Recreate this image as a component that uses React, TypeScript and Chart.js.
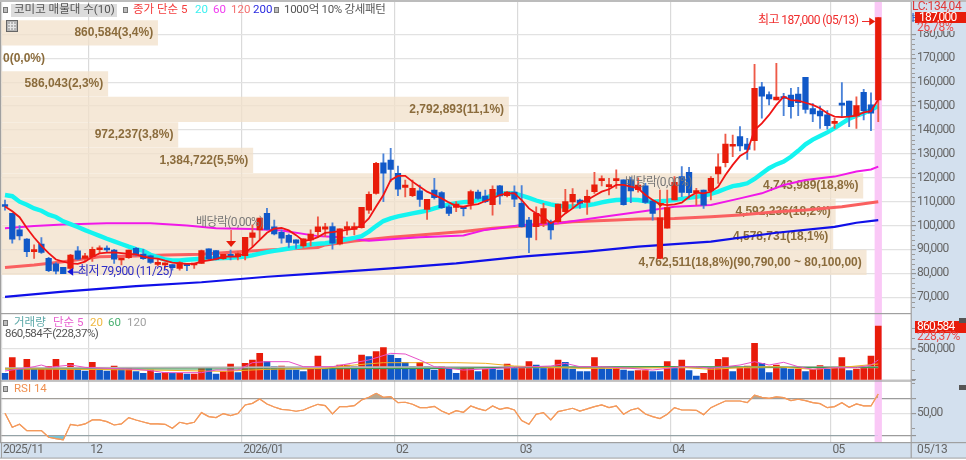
import React, { useEffect, useRef } from "react";
import { Chart, registerables } from "chart.js";

Chart.register(...registerables);

const opens = [108.3,105.1,98.2,94.4,89.1,92.3,86.3,84,82.5,82.1,89.4,86.3,87,89.9,90.3,89.8,85.6,86.6,90.5,88.1,87.3,83.8,83.5,83.7,82.1,83.7,83.5,84.2,90.3,89.5,86.2,87.7,87,87.4,95.1,98.2,105.1,99.5,97.2,95.9,94,91.5,94,97.5,98.5,99.6,92.3,98.6,98.4,99.1,106.5,113.5,126.3,127.4,121.9,116,112.5,114.5,106.8,114.9,113.8,107.9,107.6,107.4,109,114,112.4,108.8,116.6,112.5,114,109.3,102.3,99.6,100.9,101.6,101.6,105.8,109.9,110.7,109.7,114.2,118.8,116.3,118.8,119.1,119.1,115,116.6,110.3,86.3,98.9,110.7,120.5,122.3,113.8,114.9,114.6,121.6,126.3,133.2,137.2,134.1,135.5,158.1,154.8,152.6,153.6,154.6,155,162,149,147.9,146.3,142.8,151.1,152.1,145.9,155.8,150.5,152.6];
const highs = [110.7,105.1,100,94.6,92,95,86.7,84.5,82.5,88,91.2,88.4,91,91.5,91.5,90.1,86.3,89.8,90.9,90.1,87.7,85.9,84.4,83.7,84.9,83.7,84.1,89.8,90.3,89.5,88,89.8,89.1,95.1,100.3,103.1,107.2,102.3,98.2,96.5,94,94.5,98.2,103.7,101,101.2,98.7,101.6,101.2,107.6,114.1,126.5,130,132.3,124.9,119,119,117,111,119.8,114.2,108.6,110,107.4,114.9,114.9,114.9,116.6,116.9,114.3,116.6,116.7,103.5,107.9,109.3,102.3,109,115.2,115.5,111.1,114.9,122.3,120.8,119.8,123.3,119.1,120.2,120,117.7,110.7,114.9,114.9,120.5,124.7,124.4,115.6,114.9,120.5,130,138.3,137.9,141.4,136.5,167.5,160,156,167.9,155.3,157.4,157.9,162,151.1,150,148.1,144.9,159.8,152.1,153.9,157,155.6,187];
const lows = [106.5,92.6,94,87,86.3,88.4,80.7,79.8,79.9,81.5,85.6,85,85,88.4,88.7,84.2,83.5,86.3,87.3,85.9,84.2,83.1,82.1,81.4,81.4,81.1,82.1,84.2,85.6,85.6,85.9,85.6,85.6,85.6,91.2,94.4,98.2,96.1,92.6,90.9,90.5,90.9,91.5,95.4,95.4,90.1,91.9,96.1,96.1,98.9,105.1,113.2,110,118.4,112.5,112,112.1,108,102.6,111.1,107.2,104.2,105.8,104,106.9,111,109.6,104.4,109,112,107.9,99.3,88.7,94,99.6,94.3,101,105.1,107.2,107.2,104.7,113.5,116.6,112.8,115.6,108.6,109.6,114,109.3,102.3,86.3,98.9,110.7,112.1,111.4,108.6,107.2,110.7,117.7,124.6,128.8,131.3,127.7,131.6,144.9,150.5,152.6,146,144.9,146,147,143.5,140.7,140.4,140.7,145.6,141.4,140.7,144.2,139.7,143.5];
const closes = [108,94.3,95.7,89.1,89.5,88.8,81.1,80.9,79.9,87.7,86,87.4,90.1,90.4,89.8,86,86.3,89.8,87.7,86.2,84.6,84.6,84.4,82.4,84.5,83.2,84.1,89.5,86.2,85.9,88,87.1,88.3,95.1,97,103.1,98.4,96.5,94.7,93,92.6,94.5,96.5,99.5,99.5,92.6,98.7,99.6,99.6,107.6,113.1,126.1,121.9,123.5,115.2,117,115.6,111,111,111.7,107.5,105.1,109,107.1,114.2,111.4,110,115.2,112.4,114,111.1,99.6,95.1,105.1,107.1,98.2,109,110,113.1,109.3,112.2,117.1,119.6,116.9,119.6,108.8,114.5,117,109.7,105.1,103.3,107.5,118.1,113.9,113.8,114.5,108.6,119.8,124.6,134.1,133.6,133.3,131.9,157.4,154.2,153,153.8,153.2,149.8,151.4,148.6,146.7,145.9,141.8,143.5,150.4,145.6,150.2,148.1,147,187];

const ma5 = [108,106,103.5,99,95,91.5,88.5,85.8,84.9,84.2,84,84.9,87,88.4,88.7,88.8,88.5,88.2,88,87,86.4,86.2,85.3,84.5,84.2,84,84,85,85.5,86,87,87,87,88.7,91,94,97,98.7,99,98,96,93.6,94,95.2,97,97.3,97.7,98.2,98.7,100,103,108,112.8,119,120.8,120.8,118.4,116.3,114.2,112.8,111.4,109.7,108.2,107.9,108.6,109,110.3,111.4,112.8,113.5,113.5,110.7,107.2,105.1,103.5,101,102.6,105.1,107.2,109.6,110.7,112.5,114.2,115.2,117,117,116.3,115.6,112.8,110.7,109,108.6,108.9,109.6,112.1,113.8,113.5,114.2,116.3,121.2,125.4,129.1,130.9,140,142.8,146.3,150.5,154,152.5,152.3,151.4,150.5,149.1,147,145.6,145.4,145.6,146,147.4,147.9,152.8];
const ma20 = [112.8,112.3,110,108.7,107.2,106.2,104.6,103.6,101.8,100.6,99.4,98.1,96.9,95.7,94.5,93.4,92.3,91.2,90.2,89.4,87.8,86.8,85.8,85.4,85.4,85.7,85.9,86.1,86.2,86.3,86.4,86.5,86.7,87,87.6,88.3,88.9,89.4,89.9,90.4,90.9,91.5,92.1,92.4,92.6,93.1,93.7,94.3,94.9,95.6,97.5,99.8,101.9,103,103.9,104.5,105.1,105.7,106.3,107.2,108,108.9,109.4,109.8,110,110.7,111.6,112.6,113.3,113.6,113.5,112.6,111.6,110.5,109.6,108.9,108.3,108,108,108.2,108.5,109,109.7,110.3,110.7,110.8,110.8,110.7,110.2,110,110.2,110.4,110.7,111.2,111.6,112,112.6,113.3,114.2,115.4,116.5,117,117.7,119.5,121.8,124,125.6,126.8,128.8,131.3,134,136,137.5,139,140.8,142.8,144.7,146,147,148.5,150];
const ma60Idx = [0,4,8,14,20,25,29,34,38,43,46,50,57,63,66,71,76,83,88,92,97,101,104,107,110,114,117,119,120];
const ma60 = [98.9,99.8,100.5,101,101,100,98.9,98.6,97.9,95.6,95.1,93.7,95.1,95.9,98.2,100.3,101,104,106.1,107.9,108.6,111.4,113.5,117,119.1,120.5,122.6,123.5,124.7];
const ma120Idx = [0,4,8,13,18,22,27,31,36,43,44,48,53,57,63,67,73,78,84,87,92,97,101,106,110,115,120];
const ma120 = [82.5,83.5,84.9,87,87.3,87.7,88,88.8,89.8,90.8,91.9,93.6,95.1,96.1,97.5,98.9,100.3,101.6,102.3,102.8,103,103.7,104.4,105.8,106.5,107.9,110];
const ma200Idx = [0,8,18,27,36,43,53,62,71,80,87,97,106,114,117,120];
const ma200 = [70.2,72.4,74.7,76.3,78.6,80,82.1,84.2,87,89.1,91.2,93.3,97,99.5,101.2,102.3];

const volumes = [106000,356000,170000,329000,186000,186000,212000,329000,159000,266000,202000,143000,282000,159000,143000,223000,202000,186000,133000,106000,159000,106000,117000,106000,106000,96000,96000,186000,186000,96000,133000,255000,117000,266000,319000,425000,292000,212000,223000,159000,159000,133000,170000,382000,186000,212000,239000,239000,212000,398000,372000,452000,515000,398000,345000,282000,212000,282000,212000,159000,212000,186000,106000,186000,186000,133000,170000,170000,159000,255000,186000,197000,292000,239000,212000,197000,319000,282000,175000,133000,133000,356000,197000,175000,197000,159000,143000,149000,149000,133000,133000,292000,186000,319000,149000,64000,106000,186000,329000,356000,133000,186000,223000,584000,266000,117000,239000,186000,175000,175000,133000,170000,228000,170000,202000,356000,149000,175000,202000,382000,860584];
const volUp = [0,1,0,1,0,1,1,1,0,1,0,0,1,0,0,1,0,1,0,0,1,0,1,0,1,0,1,1,0,0,1,1,0,1,1,1,0,0,1,0,0,0,1,1,0,0,1,1,0,1,0,1,1,0,0,0,0,1,0,0,1,0,0,1,1,0,1,0,0,1,0,1,1,0,0,1,1,0,0,0,0,1,0,0,1,0,0,1,1,0,0,1,0,1,0,0,1,1,1,1,0,1,1,1,0,0,1,0,0,1,0,1,1,0,1,1,0,1,1,1,1];
const volMa5Idx = [0,4,5,6,9,11,14,18,20,22,27,29,32,34,36,39,41,45,47,50,53,55,57,59,63,65,70,75,77,79,82,86,89,93,95,97,101,103,105,107,109,111,114,117,119,120];
const volMa5 = [143000,212000,239000,202000,239000,202000,186000,170000,149000,117000,117000,159000,159000,276000,292000,292000,212000,212000,255000,319000,425000,414000,319000,212000,159000,170000,202000,223000,266000,212000,212000,186000,159000,212000,212000,186000,239000,292000,239000,282000,212000,170000,197000,197000,239000,319000];
const volMa20Idx = [0,20,30,36,44,48,52,62,66,70,75,79,84,93,97,102,106,111,116,120];
const volMa20 = [180000,159000,138000,170000,186000,239000,276000,276000,266000,223000,202000,186000,186000,202000,170000,202000,212000,170000,212000,255000];
const volMa60Idx = [0,30,60,70,90,110,120];
const volMa60 = [175000,175000,186000,202000,212000,202000,202000];
const volMa120Idx = [0,40,70,110,120];
const volMa120 = [186000,202000,202000,202000,202000];

const rsi = [50,31.3,35.3,26.9,26.9,26.9,18,16.2,14.5,35.3,33.6,35.8,41.1,41.1,38.9,34.4,35.8,44.2,41.1,38.4,35.8,35.8,35.3,30,38,35.8,38,50.9,45.6,44.2,49.6,46.9,49.6,61.1,63.3,69.1,62.4,58.4,55.3,54.4,52.7,54.4,58.4,62,60.2,49.1,58.9,58.9,60.2,67.8,71.3,76.6,71.3,72.2,64.2,64.7,62,57.5,57.5,59.3,53,49,53.5,51.3,59.8,56.2,53.5,59.8,55.3,57.5,54.4,40.2,35.3,48.7,50.9,41.1,52.2,54.4,56.7,53,55.8,58.9,61.1,57.5,59.8,48.7,54.4,56.7,49,45.6,42.9,48.7,57.5,54.4,54.4,54,48.2,57.5,62,66.4,66.4,66.4,64.2,74,71.3,70,71.8,70.9,66.9,68.7,66.9,64.2,62.9,57.5,58.9,64.2,58,62.4,59.8,59.8,75.8];

const profileMid = [180.69,170.02,159.35,148.68,138.01,127.34,116.67,106,95.33,84.66];
const profileVol = [860584,0,586043,2792893,972237,1384722,4743989,4592236,4578731,4762511];
const profileLabels = ["860,584(3,4%)","0(0,0%)","586,043(2,3%)","2,792,893(11,1%)","972,237(3,8%)","1,384,722(5,5%)","4,743,989(18,8%)","4,592,236(18,2%)","4,578,731(18,1%)","4,762,511(18,8%)(90,790,00 ~ 80,100,00)"];

const monthIdx = [0,12,33,54,71,92,114];
const monthLabels = ["2025/11","12","2026/01","02","03","04","05"];
const priceTicks = [70,80,90,100,110,120,130,140,150,160,170,180];
const slots = Array.from({ length: 125 }, (_, i) => String(i));

const UP = "#e81c0a", DOWN = "#1058c8", UPW = "#ee5a48", DOWNW = "#4a82d8";
const NUM = 'Roboto,"Noto Sans CJK KR",sans-serif';
const GRID = "#e2e2e2";
const STRIP = "#d3e0ee";
const AXIS_SPACING = "-0.75px";

const sparse = (idx: number[], v: number[]) => idx.map((x, k) => ({ x: String(x), y: v[k] }));
const fixFit = (w?: number, h?: number) => (s: any) => {
  if (w !== undefined) s.width = w;
  if (h !== undefined) s.height = h;
  s.paddingTop = s.paddingBottom = s.paddingLeft = s.paddingRight = 0;
};

function txt(c: any, s: string, x: number, y: number, color: string, font: string, spacing = "0px") {
  c.font = font; c.letterSpacing = spacing; c.fillStyle = color; c.textAlign = "left"; c.textBaseline = "middle"; c.fillText(s, x, y);
  c.letterSpacing = "0px";
}
function bullet(c: CanvasRenderingContext2D, x: number, y: number) {
  c.fillStyle = "#bdbdbd"; c.fillRect(x, y, 5, 6);
  c.strokeStyle = "#777"; c.lineWidth = 1; c.strokeRect(x + .5, y + .5, 4, 5);
}
function tri(c: CanvasRenderingContext2D, pts: number[][], color: string) {
  c.fillStyle = color; c.beginPath(); c.moveTo(pts[0][0], pts[0][1]); pts.slice(1).forEach(p => c.lineTo(p[0], p[1])); c.closePath(); c.fill();
}

const overlay = {
  id: "overlay",
  beforeDraw(chart: any) {
    const c = chart.ctx as any, a = chart.chartArea;
    c.fillStyle = "#fff"; c.fillRect(0, 0, 966, 460);
    c.fillStyle = STRIP;
    c.fillRect(a.right, a.top, 966 - a.right, 458 - a.top);
    c.fillRect(0, a.bottom, 966, 16);
    c.letterSpacing = AXIS_SPACING;
  },
  beforeDatasetsDraw(chart: any) {
    const c = chart.ctx as any, a = chart.chartArea, x = chart.scales.x;
    c.letterSpacing = "0px";
    c.save();
    const p = x.getPixelForValue(120), w = x.getPixelForValue(1) - x.getPixelForValue(0);
    c.fillStyle = "#fac8f6";
    c.fillRect(p - w / 2, a.top, w, a.bottom - a.top);
    c.restore();
  },
  afterDatasetDraw(chart: any, args: any) {
    if (args.index !== 0) return;
    const c = chart.ctx as CanvasRenderingContext2D, y = chart.scales.y, xp = chart.scales.xProfile;
    c.save();
    profileLabels.forEach((s, k) => {
      const f = 'bold 12px "Liberation Sans","Noto Sans CJK KR",sans-serif';
      c.font = f;
      const w = c.measureText(s).width;
      const end = xp.getPixelForValue(profileVol[k]) - 4.5;
      txt(c, s, Math.max(3, end - w), y.getPixelForValue(profileMid[k]), "#8b6c3c", f);
    });
    c.restore();
  },
  afterDatasetsDraw(chart: any) {
    const c = chart.ctx as CanvasRenderingContext2D, x = chart.scales.x, y = chart.scales.y;
    c.save();
    const F = `12px ${NUM}`, S = "-0.6px";
    const hx = x.getPixelForValue(120);
    txt(c, "최고 187,000 (05/13)", 758, 21, "#f02c2c", F, S);
    c.strokeStyle = "#f02c2c"; c.lineWidth = 1;
    c.beginPath(); c.moveTo(862, 21.5); c.lineTo(873, 21.5); c.stroke();
    tri(c, [[hx - 3, 21.5], [hx - 9, 17.5], [hx - 9, 25.5]], "#e81c0a");
    const lx = x.getPixelForValue(8) + 4, ly = y.getPixelForValue(79.9) - 2;
    tri(c, [[lx, ly], [lx + 6, ly - 4], [lx + 6, ly + 4]], "#1414d8");
    c.strokeStyle = "#1414d8"; c.beginPath(); c.moveTo(lx + 6, ly + .5); c.lineTo(lx + 13, ly + .5); c.stroke();
    txt(c, "최저 79,900 (11/25)", 78, ly, "#2c2cc8", F, S);
    txt(c, "배당락(0,00%)", 196, 223, "#777", F, S);
    const dx = x.getPixelForValue(31);
    c.strokeStyle = "#e81c0a"; c.beginPath(); c.moveTo(dx + .5, 230); c.lineTo(dx + .5, 241); c.stroke();
    tri(c, [[dx + .5, 247], [dx - 4.5, 241], [dx + 5.5, 241]], "#e81c0a");
    txt(c, "배당락(0,00%)", 625, 183, "#777", F, S);
    const ex = x.getPixelForValue(90);
    tri(c, [[ex + .5, 207], [ex - 3.5, 203], [ex + 4.5, 203]], "#e81c0a");
    c.restore();
  },
  afterDraw(chart: any) {
    const c = chart.ctx as CanvasRenderingContext2D, a = chart.chartArea;
    const { y, yVol, yRsi } = chart.scales;
    c.save();
    const F = `12px ${NUM}`, S = AXIS_SPACING;
    c.fillStyle = "#bcbcbc"; c.fillRect(0, 0, 966, 2);
    c.fillStyle = "#a0a0a0";
    c.fillRect(0, 313, 911, 1.2); c.fillRect(0, 380.4, 911, 1.2);
    c.fillRect(0, 442, 966, 1.2); c.fillRect(0, 457.6, 966, 1);
    c.fillRect(910.6, 2, 1.2, 456);
    c.fillRect(0, 2, 1, 440);
    c.fillRect(1, 442, 1, 16);
    c.fillStyle = "#9a9a9a";
    for (let v = 66; v < 192; v += 2) if (v % 10) c.fillRect(a.right + 1, Math.round(y.getPixelForValue(v)), 3, 1);
    for (let v = 0; v < 1000000; v += 166667) c.fillRect(a.right + 1, Math.round(yVol.getPixelForValue(v)), 3, 1);
    for (let v = 30; v < 94; v += 20) c.fillRect(a.right + 1, Math.round(yRsi.getPixelForValue(v)), 3, 1);
    const L = `11.5px ${NUM}`, LS = "-0.3px";
    bullet(c, 3, 7);
    c.fillStyle = "#dcdcdc"; c.fillRect(11, 4, 106, 13);
    txt(c, "코미코 매물대 수(10)", 14, 10.5, "#555", L);
    bullet(c, 123, 7);
    txt(c, "종가 단순 5", 133, 10.5, "#f43c3c", L);
    txt(c, "20", 195, 10.5, "#3cf0f0", L);
    txt(c, "60", 213, 10.5, "#f03cf0", L);
    txt(c, "120", 231, 10.5, "#f47070", L);
    txt(c, "200", 253, 10.5, "#2a2ae0", L);
    bullet(c, 274, 7);
    txt(c, "1000억 10% 강세패턴", 284, 10.5, "#555", L, LS);
    c.fillStyle = "#b4b4b4"; c.fillRect(6, 20, 12, 12);
    c.strokeStyle = "#666"; c.lineWidth = 1; c.strokeRect(6.5, 20.5, 11, 11);
    c.strokeStyle = "#e6e6e6"; c.beginPath();
    c.moveTo(8, 24.5); c.lineTo(16, 24.5); c.moveTo(8, 27.5); c.lineTo(16, 27.5); c.moveTo(10.5, 22); c.lineTo(10.5, 30); c.moveTo(13.5, 22); c.lineTo(13.5, 30); c.stroke();
    bullet(c, 3, 320);
    txt(c, "거래량", 14, 323, "#5ca8a8", L);
    txt(c, "단순 5", 53, 323, "#e860d0", L);
    txt(c, "20", 90, 323, "#f0b840", L);
    txt(c, "60", 108, 323, "#48b070", L);
    txt(c, "120", 127, 323, "#a0a0a0", L);
    txt(c, "860,584주(228,37%)", 5, 334, "#555", L, "-0.55px");
    bullet(c, 3, 386);
    txt(c, "RSI 14", 14, 389, "#f09050", L);
    txt(c, "LC:134,04", 912, 7, "#e03838", F, "-0.4px");
    txt(c, "H", 911.5, 19, "#3068d0", F);
    c.fillStyle = STRIP; c.fillRect(912, 23, 54, 8);
    c.fillStyle = "#e81c0a"; c.fillRect(915, 12, 51, 11);
    txt(c, "187,000", 919, 17.5, "#fff", F, S);
    txt(c, "26,78%", 917, 28, "#e84848", F, "-0.25px");
    c.fillStyle = "#e81c0a"; c.fillRect(915, 321, 51, 12);
    txt(c, "860,584", 917, 327, "#fff", F, S);
    txt(c, "228,37%", 917, 337, "#e84848", F, "-0.25px");
    c.fillStyle = "#555";
    c.fillRect(959, 318, 7, 5); c.fillRect(959, 385, 7, 5);
    txt(c, "05/13", 917, 450, "#666", F, "-0.3px");
    c.restore();
  },
};

export default function App() {
  const ref = useRef<HTMLCanvasElement>(null);
  useEffect(() => {
    document.body.style.margin = "0";
    document.body.style.background = "#fff";
    const wick = (i: number) => [lows[i], highs[i]];
    const line = (label: string, data: any[], color: string, width: number, order: number, yAxisID = "y") => ({
      type: "line", label, data, borderColor: color, borderWidth: width, pointRadius: 0, tension: 0, fill: false, order, yAxisID, xAxisID: "x",
    });
    const axisFont = { family: NUM, size: 12 };
    const chart = new Chart(ref.current as HTMLCanvasElement, {
      data: {
        labels: slots,
        datasets: [
          {
            type: "bar", label: "매물대", indexAxis: "y", xAxisID: "xProfile", yAxisID: "y", grouped: false,
            data: profileVol.map((v, k) => ({ x: v, y: profileMid[k] })),
            backgroundColor: "rgba(241,224,202,0.75)", barThickness: 24.6, order: 100,
          },
          line("200", sparse(ma200Idx, ma200), "#1010e8", 2.2, 60),
          line("120", sparse(ma120Idx, ma120), "#fa6060", 3, 59),
          line("60", sparse(ma60Idx, ma60), "#f018e8", 2, 58),
          line("20", ma20, "#14f4f0", 4.4, 57),
          {
            type: "bar", label: "wick", xAxisID: "x", yAxisID: "y", grouped: false, barThickness: 1.2, order: 50,
            data: opens.map((_, i) => wick(i)),
            backgroundColor: opens.map((o, i) => (closes[i] >= o ? UPW : DOWNW)),
          },
          {
            type: "bar", label: "body", xAxisID: "x", yAxisID: "y", grouped: false, barThickness: 5.6, minBarLength: 2, order: 49,
            data: opens.map((o, i) => [o, closes[i]]),
            backgroundColor: opens.map((o, i) => (closes[i] >= o ? UP : DOWN)),
          },
          line("5", ma5, "#f01414", 1.8, 40),
          {
            type: "bar", label: "거래량", xAxisID: "x", yAxisID: "yVol", grouped: false, barThickness: 6, order: 30,
            data: volumes, backgroundColor: volUp.map(u => (u ? UP : DOWN)),
          },
          line("v120", sparse(volMa120Idx, volMa120), "#b4b4b4", 2, 29, "yVol"),
          line("v60", sparse(volMa60Idx, volMa60), "#3c9c50", 1.2, 28, "yVol"),
          line("v20", sparse(volMa20Idx, volMa20), "#f0b020", 1, 27, "yVol"),
          line("v5", sparse(volMa5Idx, volMa5), "#e850c8", 1, 26, "yVol"),
          {
            ...line("RSI", rsi, "#f49a5c", 1.2, 20, "yRsi"),
            fill: { target: { value: 70 }, above: "#b8a890", below: "rgba(0,0,0,0)" },
          },
          {
            ...line("RSI low", rsi, "#f49a5c", 1.2, 21, "yRsi"),
            fill: { target: { value: 20 }, above: "rgba(0,0,0,0)", below: "#78c4d8" },
          },
        ] as any,
      },
      options: {
        responsive: false,
        animation: false,
        devicePixelRatio: 1,
        layout: { padding: { top: 2, left: 1.36, right: 0, bottom: 2 } },
        plugins: { legend: { display: false }, tooltip: { enabled: false } },
        scales: {
          x: {
            type: "category", position: "bottom", offset: true,
            afterFit: fixFit(undefined, 16),
            border: { display: false },
            grid: {
              offset: true, drawTicks: false, lineWidth: 1.2,
              color: (ctx: any) => (monthIdx.includes(ctx.index) ? "#dadada" : "rgba(0,0,0,0)"),
            },
            ticks: {
              autoSkip: false, maxRotation: 0, minRotation: 0, align: "start", labelOffset: -2, padding: 1,
              color: "#666", font: axisFont,
              callback: (_: any, i: number) => { const k = monthIdx.indexOf(i); return k >= 0 ? monthLabels[k] : ""; },
            },
          },
          xProfile: { type: "linear", display: false, min: 0, max: 5009000, position: "bottom" },
          y: {
            type: "linear", position: "right", stack: "panels", stackWeight: 311, min: 63.43, max: 193.56, offset: false,
            afterFit: fixFit(55),
            afterBuildTicks: (s: any) => { s.ticks = priceTicks.map(value => ({ value })); },
            border: { display: false },
            grid: { offset: false, color: GRID, lineWidth: 1.3, tickColor: "#888", tickLength: 5, tickWidth: 1 },
            ticks: {
              autoSkip: false, padding: 1, color: "#666", font: axisFont,
              callback: (v: any) => `${v},000`,
            },
          },
          yVol: {
            type: "linear", position: "right", stack: "panels", stackWeight: 67, min: 0, max: 1068000,
            afterFit: fixFit(55),
            afterBuildTicks: (s: any) => { s.ticks = [0, 500000].map(value => ({ value })); },
            border: { display: false },
            grid: { color: GRID, lineWidth: 1.2, tickColor: "#888", tickLength: 5, tickWidth: 1 },
            ticks: {
              autoSkip: false, padding: 1, color: "#666", font: axisFont,
              callback: (v: any) => (v === 500000 ? "500,000" : ""),
            },
          },
          yRsi: {
            type: "linear", position: "right", stack: "panels", stackWeight: 62, min: 11.7, max: 94.4,
            afterFit: fixFit(55),
            afterBuildTicks: (s: any) => { s.ticks = [20, 50, 70].map(value => ({ value })); },
            border: { display: false },
            grid: {
              color: (ctx: any) => (ctx.tick && ctx.tick.value === 50 ? GRID : "#9c9c9c"),
              lineWidth: 1.3, tickColor: "#888", tickLength: 5, tickWidth: 1,
            },
            ticks: {
              autoSkip: false, padding: 1, color: "#666", font: axisFont,
              callback: (v: any) => (v === 50 ? "50,00" : ""),
            },
          },
        },
      } as any,
      plugins: [overlay],
    } as any);
    return () => chart.destroy();
  }, []);
  return <canvas ref={ref} width={966} height={460} style={{ display: "block", width: 966, height: 460, filter: "blur(0.3px)" }} />;
}
